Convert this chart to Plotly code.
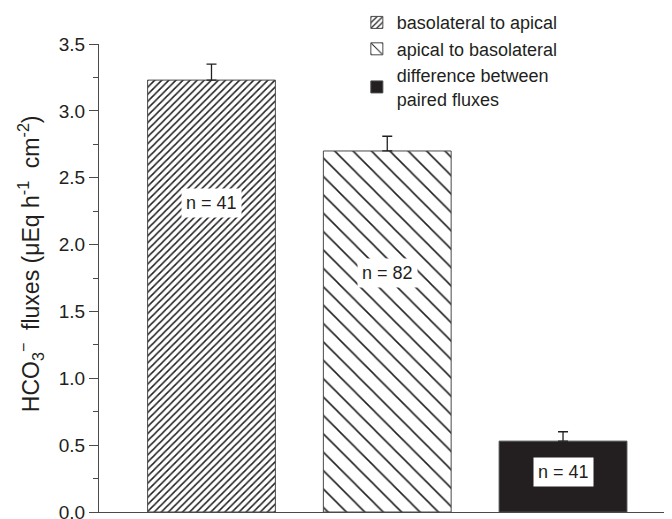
import plotly.graph_objects as go

# ---- data ----
series_names = ["basolateral to apical", "apical to basolateral",
                "difference between<br>paired fluxes"]
positions = [0, 1, 2]
flux_values = [3.23, 2.70, 0.53]
flux_errors = [0.12, 0.11, 0.07]
n_labels = ["n = 41", "n = 82", "n = 41"]
n_label_y = [2.31, 1.79, 0.30]
y_ticks = [0.0, 0.5, 1.0, 1.5, 2.0, 2.5, 3.0, 3.5]
y_title = ("HCO<sub>3</sub><sup>−</sup>&nbsp; fluxes (μEq h<sup>-1</sup>"
           "&nbsp; cm<sup>-2</sup>)")

INK = "#231f20"
AXIS = "#4a4a4a"
FONT = "Liberation Sans, Arial, sans-serif"

patterns = [
    dict(shape="/", size=5, solidity=0.3, fgcolor=INK, bgcolor="white", fillmode="replace"),
    dict(shape="\\", size=13, solidity=0.12, fgcolor=INK, bgcolor="white", fillmode="replace"),
    None,
]
fills = ["white", "white", INK]

fig = go.Figure()
for i in range(3):
    marker = dict(color=fills[i], line=dict(color=AXIS, width=1))
    if patterns[i] is not None:
        marker["pattern"] = patterns[i]
    fig.add_trace(go.Bar(
        x=[positions[i]], y=[flux_values[i]], name=series_names[i],
        width=0.727, marker=marker,
        error_y=dict(type="data", array=[flux_errors[i]], arrayminus=[0],
                     symmetric=False, color=INK, thickness=1.3, width=5),
        legendgroup=str(i),
    ))

for i in range(3):
    fig.add_annotation(x=positions[i], y=n_label_y[i], text=n_labels[i],
                       showarrow=False, bgcolor="white", borderpad=4,
                       font=dict(family=FONT, size=18, color=INK))

# y-axis title as a rotated annotation (placed like the reference)
fig.add_annotation(x=-0.12, y=0.53, xref="paper", yref="paper",
                   text=y_title, textangle=-90, showarrow=False,
                   xanchor="center", yanchor="middle",
                   font=dict(family=FONT, size=23, color=INK))

# the page body adds an 8px offset, so the figure is 8px smaller and margins shifted
fig.update_layout(
    width=664, height=511,
    margin=dict(l=91, r=0, t=36, b=7, autoexpand=False),
    paper_bgcolor="white", plot_bgcolor="white",
    font=dict(family=FONT, color=INK),
    barmode="overlay",
    showlegend=True,
    legend=dict(x=0.45, y=1.085, xanchor="left", yanchor="top",
                font=dict(family=FONT, size=18, color=INK),
                bgcolor="rgba(0,0,0,0)", traceorder="normal",
                tracegroupgap=11, itemclick=False),
)
fig.update_xaxes(range=[-0.64, 2.62], showline=True, linecolor=AXIS, linewidth=1.3,
                 showticklabels=False, ticks="", showgrid=False, zeroline=False)
fig.update_yaxes(range=[0, 3.5], tickvals=y_ticks, tickformat=".1f",
                 ticks="outside", ticklen=9, tickwidth=1.2, tickcolor=AXIS,
                 minor=dict(dtick=0.25, ticks="outside", ticklen=5, tickwidth=1.2, tickcolor=AXIS),
                 showline=True, linecolor=AXIS, linewidth=1.3,
                 showgrid=False, zeroline=False, ticklabeloverflow="allow",
                 tickfont=dict(family=FONT, size=19, color=INK))

fig.write_html("out.html")
